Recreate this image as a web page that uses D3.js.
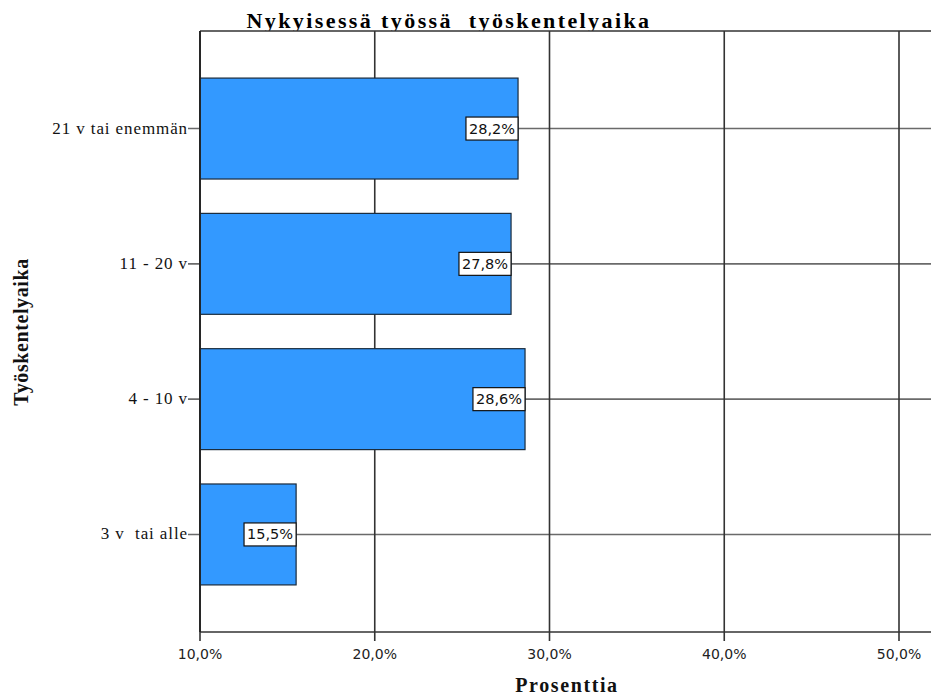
<!DOCTYPE html>
<html>
<head>
<meta charset="utf-8">
<script src="https://cdn.jsdelivr.net/npm/d3@7"></script>
<style>
  html, body { margin: 0; padding: 0; background: #fff; }
  svg { display: block; }
  text { white-space: pre; }
</style>
</head>
<body>
<script>
// Työskentelyaika nykyisessä työssä, prosenttiosuudet
const categories = ["21 v tai enemmän", "11 - 20 v", "4 - 10 v", "3 v  tai alle"];
const values = [28.2, 27.8, 28.6, 15.5];
const xTicks = [10, 20, 30, 40, 50];
const title = "Nykyisessä työssä  työskentelyaika";
const xTitle = "Prosenttia";
const yTitle = "Työskentelyaika";

const W = 931, H = 695;
const plot = { left: 200, top: 31, bottom: 632, right: W };

const fmt = v => d3.format(".1f")(v).replace(".", ",") + "%";

const svg = d3.select("body").append("svg")
  .attr("width", W).attr("height", H);

const x = d3.scaleLinear().domain([10, 50]).range([plot.left, 899]);
const y = d3.scaleBand().domain(categories)
  .range([plot.top, plot.bottom])
  .paddingInner(0.254).paddingOuter(0.348);

// title, clipped at the top frame line
svg.append("clipPath").attr("id", "titleClip")
  .append("rect").attr("x", 0).attr("y", 0).attr("width", W).attr("height", plot.top);
svg.append("text")
  .attr("clip-path", "url(#titleClip)")
  .attr("x", 449).attr("y", 27.5)
  .attr("text-anchor", "middle")
  .attr("font-family", "Liberation Serif, serif")
  .attr("font-weight", "bold")
  .attr("font-size", 22)
  .attr("letter-spacing", 2.4)
  .attr("fill", "#000")
  .text(title);

// horizontal reference lines at each category (with tick stubs)
svg.append("g").selectAll("line").data(categories).join("line")
  .attr("x1", plot.left - 12).attr("x2", plot.right)
  .attr("y1", d => y(d) + y.bandwidth() / 2)
  .attr("y2", d => y(d) + y.bandwidth() / 2)
  .attr("stroke", "#6a6a6a").attr("stroke-width", 1.6);

// vertical grid lines with ticks below the axis
svg.append("g").selectAll("line").data(xTicks).join("line")
  .attr("x1", d => x(d)).attr("x2", d => x(d))
  .attr("y1", plot.top).attr("y2", plot.bottom + 9)
  .attr("stroke", "#333").attr("stroke-width", 1.6);

// frame: top and bottom lines
svg.append("line")
  .attr("x1", plot.left).attr("x2", plot.right)
  .attr("y1", plot.top).attr("y2", plot.top)
  .attr("stroke", "#333").attr("stroke-width", 1.6);
svg.append("line")
  .attr("x1", plot.left).attr("x2", plot.right)
  .attr("y1", plot.bottom).attr("y2", plot.bottom)
  .attr("stroke", "#333").attr("stroke-width", 1.6);

// bars
svg.append("g").selectAll("rect").data(values).join("rect")
  .attr("x", x(10))
  .attr("y", (d, i) => y(categories[i]))
  .attr("width", d => x(d) - x(10))
  .attr("height", y.bandwidth())
  .attr("fill", "#3399ff")
  .attr("stroke", "#1a2b3c").attr("stroke-width", 1.2);

// left axis line
svg.append("line")
  .attr("x1", plot.left).attr("x2", plot.left)
  .attr("y1", plot.top).attr("y2", plot.bottom)
  .attr("stroke", "#222").attr("stroke-width", 1.8);

// value labels in boxes at the bar ends
const lab = svg.append("g").selectAll("g").data(values).join("g")
  .attr("transform", (d, i) => `translate(${x(d)},${y(categories[i]) + y.bandwidth() / 2})`);
lab.append("text")
  .attr("text-anchor", "end")
  .attr("x", -3).attr("y", 5)
  .attr("font-family", "DejaVu Sans, sans-serif")
  .attr("font-size", 14.5)
  .attr("fill", "#111")
  .text(d => fmt(d));
lab.each(function () {
  const g = d3.select(this);
  const w = g.select("text").node().getComputedTextLength();
  g.insert("rect", "text")
    .attr("x", -w - 6).attr("y", -11.5)
    .attr("width", w + 6).attr("height", 23)
    .attr("fill", "#fff").attr("stroke", "#111").attr("stroke-width", 1.2);
});

// category labels
svg.append("g").selectAll("text").data(categories).join("text")
  .attr("x", plot.left - 12)
  .attr("y", d => y(d) + y.bandwidth() / 2 + 5)
  .attr("text-anchor", "end")
  .attr("font-family", "Liberation Serif, serif")
  .attr("font-size", 17)
  .attr("letter-spacing", 0.9)
  .attr("fill", "#111")
  .text(d => d);

// x tick labels
svg.append("g").selectAll("text").data(xTicks).join("text")
  .attr("x", d => x(d))
  .attr("y", 659)
  .attr("text-anchor", "middle")
  .attr("font-family", "DejaVu Sans, sans-serif")
  .attr("font-size", 14)
  .attr("fill", "#222")
  .text(d => fmt(d));

// axis titles
svg.append("text")
  .attr("x", 567).attr("y", 692)
  .attr("text-anchor", "middle")
  .attr("font-family", "Liberation Serif, serif")
  .attr("font-weight", "bold")
  .attr("font-size", 20)
  .attr("letter-spacing", 1.6)
  .attr("fill", "#111")
  .text(xTitle);
svg.append("text")
  .attr("transform", "translate(28,332) rotate(-90)")
  .attr("text-anchor", "middle")
  .attr("font-family", "Liberation Serif, serif")
  .attr("font-weight", "bold")
  .attr("font-size", 20)
  .attr("letter-spacing", 0.6)
  .attr("fill", "#111")
  .text(yTitle);
</script>
</body>
</html>
